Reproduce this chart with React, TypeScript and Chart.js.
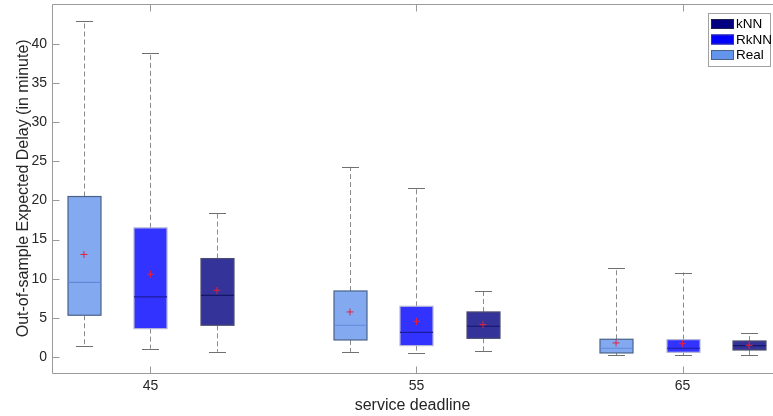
import React, { useEffect, useRef } from 'react';
import { Chart, registerables } from 'chart.js';

Chart.register(...registerables);

// ---- data ----
const deadlines = [45, 55, 65];
const xTickLabels = ['45', '55', '65'];
const yTicks = [0, 5, 10, 15, 20, 25, 30, 35, 40];
const methods = ['Real', 'RkNN', 'kNN'];
const legendOrder = ['kNN', 'RkNN', 'Real'];

const realLow = [1.4, 0.64, 0.21];
const realQ1 = [5.33, 2.17, 0.51];
const realMedian = [9.54, 4.05, 1.11];
const realQ3 = [20.5, 8.43, 2.26];
const realHigh = [42.88, 24.3, 11.33];
const realMean = [13.1, 5.75, 1.79];

const rknnLow = [1.06, 0.51, 0.21];
const rknnQ1 = [3.62, 1.45, 0.6];
const rknnMedian = [7.67, 3.15, 1.11];
const rknnQ3 = [16.49, 6.47, 2.21];
const rknnHigh = [38.9, 21.56, 10.78];
const rknnMean = [10.57, 4.55, 1.7];

const knnLow = [0.66, 0.77, 0.21];
const knnQ1 = [4.05, 2.38, 0.89];
const knnMedian = [7.88, 3.92, 1.45];
const knnQ3 = [12.57, 5.75, 2.04];
const knnHigh = [18.4, 8.48, 3.03];
const knnMean = [8.52, 4.13, 1.49];

// ---- styles ----
const FONT = "'Liberation Sans', Arial, Helvetica, sans-serif";
const TEXT = '#262626';
const FRAME = '#9a9a9a';
const OFFSETS: Record<string, number> = { Real: -2.5, RkNN: 0, kNN: 2.5 };
const STYLE: Record<string, any> = {
  Real: { fill: 'rgba(100,149,237,0.8)', edge: '#4a6288', median: '#5f88d8', legend: '#6495ED', legendEdge: '#4a6288' },
  RkNN: { fill: 'rgba(0,0,255,0.8)', edge: '#b4b4d6', median: '#1c1c9c', legend: '#0000FF', legendEdge: '#3030a0' },
  kNN: { fill: 'rgba(0,0,128,0.8)', edge: '#4c4c70', median: '#15156a', legend: '#000080', legendEdge: '#202050' },
};

const boxStats: Record<string, number[][]> = {
  Real: [realLow, realQ1, realMedian, realQ3, realHigh],
  RkNN: [rknnLow, rknnQ1, rknnMedian, rknnQ3, rknnHigh],
  kNN: [knnLow, knnQ1, knnMedian, knnQ3, knnHigh],
};
const means: Record<string, number[]> = { Real: realMean, RkNN: rknnMean, kNN: knnMean };

const BOX_HALF = 0.62;
const CAP_HALF = 0.32;

const boxPlugin = {
  id: 'boxPlugin',
  beforeDatasetsDraw(chart: any) {
    const { ctx } = chart;
    const xs = chart.scales.x;
    const ys = chart.scales.y;
    ctx.save();
    methods.forEach((m) => {
      const [lo, q1, med, q3, hi] = boxStats[m];
      const st = STYLE[m];
      deadlines.forEach((d, g) => {
        const xv = d + OFFSETS[m];
        const px = Math.round(xs.getPixelForValue(xv)) + 0.5;
        const hw = xs.getPixelForValue(xv + BOX_HALF) - xs.getPixelForValue(xv);
        const cw = xs.getPixelForValue(xv + CAP_HALF) - xs.getPixelForValue(xv);
        const yLo = ys.getPixelForValue(lo[g]);
        const yQ1 = ys.getPixelForValue(q1[g]);
        const yMed = ys.getPixelForValue(med[g]);
        const yQ3 = ys.getPixelForValue(q3[g]);
        const yHi = ys.getPixelForValue(hi[g]);
        // whiskers
        ctx.strokeStyle = '#8a8a8a';
        ctx.lineWidth = 1;
        ctx.setLineDash([5, 3]);
        ctx.beginPath();
        ctx.moveTo(px, yQ3);
        ctx.lineTo(px, yHi);
        ctx.moveTo(px, yQ1);
        ctx.lineTo(px, yLo);
        ctx.stroke();
        ctx.setLineDash([]);
        // caps
        ctx.strokeStyle = '#707070';
        ctx.beginPath();
        ctx.moveTo(px - cw, Math.round(yHi) + 0.5);
        ctx.lineTo(px + cw, Math.round(yHi) + 0.5);
        ctx.moveTo(px - cw, Math.round(yLo) + 0.5);
        ctx.lineTo(px + cw, Math.round(yLo) + 0.5);
        ctx.stroke();
        // box
        ctx.fillStyle = '#ffffff';
        ctx.fillRect(px - hw, yQ3, 2 * hw, yQ1 - yQ3);
        ctx.fillStyle = st.fill;
        ctx.fillRect(px - hw, yQ3, 2 * hw, yQ1 - yQ3);
        ctx.strokeStyle = st.edge;
        ctx.lineWidth = 1.2;
        ctx.strokeRect(px - hw, yQ3, 2 * hw, yQ1 - yQ3);
        // median
        ctx.strokeStyle = st.median;
        ctx.lineWidth = 1.2;
        ctx.beginPath();
        ctx.moveTo(px - hw, yMed);
        ctx.lineTo(px + hw, yMed);
        ctx.stroke();
      });
    });
    ctx.restore();
  },
  afterDraw(chart: any) {
    const { ctx, chartArea: a } = chart;
    const xs = chart.scales.x;
    const ys = chart.scales.y;
    ctx.save();
    // frame (left, top, bottom)
    ctx.strokeStyle = FRAME;
    ctx.lineWidth = 1;
    const L = Math.round(a.left) + 0.5;
    const T = Math.round(a.top) + 0.5;
    const B = Math.round(a.bottom) + 0.5;
    const R = a.right + 2;
    ctx.beginPath();
    ctx.moveTo(L, B);
    ctx.lineTo(L, T);
    ctx.lineTo(R, T);
    ctx.moveTo(L, B);
    ctx.lineTo(R, B);
    ctx.stroke();
    // inner ticks
    ctx.beginPath();
    ys.ticks.forEach((t: any) => {
      const y = Math.round(ys.getPixelForValue(t.value)) + 0.5;
      ctx.moveTo(L, y);
      ctx.lineTo(L + 7, y);
    });
    xs.ticks.forEach((t: any) => {
      const x = Math.round(xs.getPixelForValue(t.value)) + 0.5;
      ctx.moveTo(x, B);
      ctx.lineTo(x, B - 7);
      ctx.moveTo(x, T);
      ctx.lineTo(x, T + 7);
    });
    ctx.stroke();
    // legend
    const lx = 708;
    const ly = 13;
    const lw = 62;
    const lh = 53;
    ctx.fillStyle = '#ffffff';
    ctx.fillRect(lx, ly, lw, lh);
    ctx.strokeStyle = '#a0a0a0';
    ctx.strokeRect(lx + 0.5, ly + 0.5, lw, lh);
    ctx.font = `13.5px ${FONT}`;
    ctx.textBaseline = 'middle';
    ctx.textAlign = 'left';
    legendOrder.forEach((m, i) => {
      const st = STYLE[m];
      const ry = ly + 6 + i * 15.5;
      ctx.fillStyle = st.legend;
      ctx.fillRect(lx + 3, ry, 23, 10);
      ctx.strokeStyle = st.legendEdge;
      ctx.strokeRect(lx + 3.5, ry + 0.5, 22, 9);
      ctx.fillStyle = '#000000';
      ctx.fillText(m, lx + 28, ry + 5.5);
    });
    ctx.restore();
  },
};

export default function App() {
  const ref = useRef<HTMLCanvasElement | null>(null);
  useEffect(() => {
    document.body.style.margin = '0';
    const canvas = ref.current;
    if (!canvas) return;
    const meanDatasets = methods.map((m) => ({
      label: m + ' mean',
      data: deadlines.map((d, g) => ({ x: d + OFFSETS[m], y: means[m][g] })),
      pointStyle: 'cross',
      pointRadius: 3.5,
      pointHoverRadius: 3.5,
      borderColor: '#e8203c',
      backgroundColor: '#e8203c',
      pointBorderWidth: 1,
      showLine: false,
    }));
    const chart = new Chart(canvas, {
      type: 'scatter',
      data: { datasets: meanDatasets as any },
      options: {
        animation: false,
        responsive: false,
        maintainAspectRatio: false,
        layout: { autoPadding: false, padding: { top: 4, right: 0, left: 0, bottom: 0 } },
        plugins: { legend: { display: false }, tooltip: { enabled: false } },
        scales: {
          x: {
            type: 'linear',
            min: 41.3,
            max: 68.4,
            afterBuildTicks: (s: any) => {
              s.ticks = deadlines.map((v) => ({ value: v }));
            },
            afterFit: (s: any) => {
              s.height = 43.4;
              s.paddingLeft = 0;
              s.paddingRight = 0;
            },
            ticks: {
              callback: (v: any) => xTickLabels[deadlines.indexOf(Number(v))] ?? '',
              font: { family: FONT, size: 14 },
              color: TEXT,
              padding: 5,
              maxRotation: 0,
              autoSkip: false,
            },
            grid: { display: false, drawTicks: false },
            border: { display: false },
            title: {
              display: true,
              text: 'service deadline',
              font: { family: FONT, size: 16 },
              color: TEXT,
              padding: { top: 0, bottom: 1 },
            },
          },
          y: {
            type: 'linear',
            min: -2,
            max: 45.1,
            afterBuildTicks: (s: any) => {
              s.ticks = yTicks.map((v) => ({ value: v }));
            },
            afterFit: (s: any) => {
              s.width = 52;
              s.paddingTop = 0;
              s.paddingBottom = 0;
            },
            ticks: {
              font: { family: FONT, size: 14 },
              color: TEXT,
              padding: 5,
            },
            grid: { display: false, drawTicks: false },
            border: { display: false },
            title: {
              display: true,
              text: 'Out-of-sample Expected Delay (in minute)',
              font: { family: FONT, size: 16 },
              color: TEXT,
              padding: { top: 14, bottom: 0 },
            },
          },
        },
      },
      plugins: [boxPlugin],
    });
    return () => chart.destroy();
  }, []);
  return (
    <div style={{ width: 773, height: 416, background: '#ffffff' }}>
      <canvas ref={ref} width={773} height={416} style={{ display: 'block' }} />
    </div>
  );
}
